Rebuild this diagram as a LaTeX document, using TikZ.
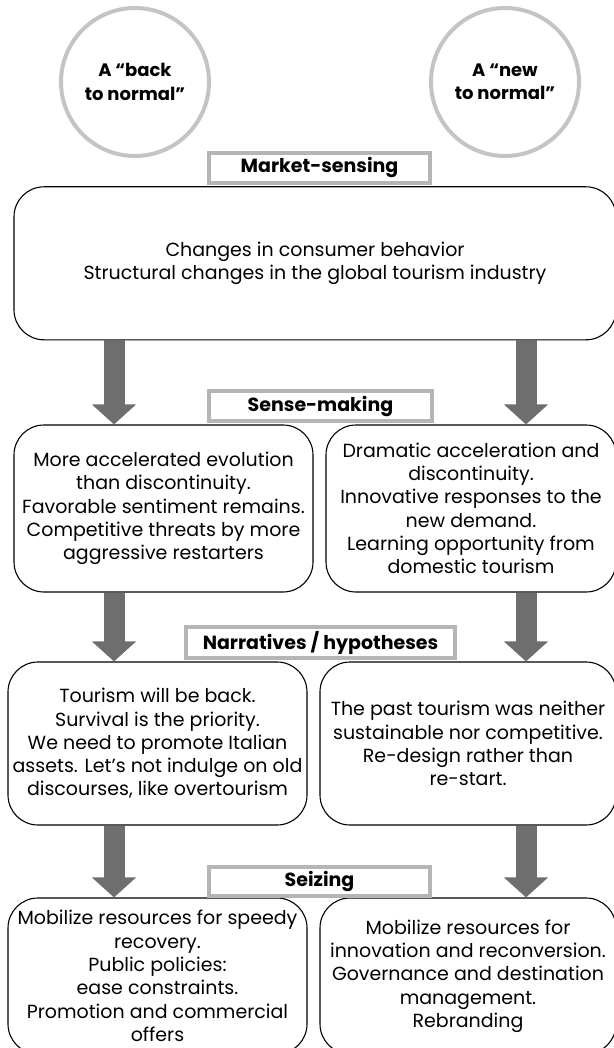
\documentclass[tikz,border=0pt]{standalone}
\usepackage{fontspec}
\setmainfont{Poppins}
\usepackage{xcolor}
\usetikzlibrary{arrows.meta,positioning,calc}

\definecolor{arrowgray}{HTML}{6E6E6E}
\definecolor{labelgray}{HTML}{B5B5B5}
\definecolor{ringgray}{HTML}{C4C4C4}

\begin{document}
\begin{tikzpicture}[x=1pt,y=-1pt,
	font=\fontsize{19}{23.3}\selectfont,
	ring/.style={circle,draw=ringgray,line width=4pt,minimum size=148pt,inner sep=0pt,align=center,font=\fontsize{18}{23.3}\selectfont\bfseries},
	phase/.style={draw=labelgray,line width=4pt,fill=white,inner sep=0pt,font=\fontsize{19}{23.3}\selectfont\bfseries},
	stagebox/.style={draw,line width=1.1pt,rounded corners=30pt,inner sep=0pt,align=center},
	bigarrow/.style={draw=arrowgray,line width=21pt,-{Triangle[length=20pt,width=43pt]}}]
		\useasboundingbox (0,0) rectangle (613,1048);
		\coordinate (colL) at (114,0);
		\coordinate (colR) at (526,0);
		% scenarios
		\node[ring] (back) at (135,82) {A “back\\to normal”};
		\node[ring] (new) at (505,82) {A “new\\to normal”};
		% market-sensing
		\node[stagebox,minimum width=602pt,minimum height=153pt] (mkt) at (315,263.3)
			{Changes in consumer behavior\\Structural changes in the global tourism industry};
		\node[phase,minimum width=221pt,minimum height=30pt] (mktL) at (319.5,168) {Market-sensing};
		% sense-making
		\node[stagebox,minimum width=299pt,minimum height=167pt] (senseL) at (163.5,508.5)
			{More accelerated evolution\\than discontinuity.\\Favorable sentiment remains.\\Competitive threats by more\\aggressive restarters};
		\node[stagebox,minimum width=290pt,minimum height=167pt] (senseR) at (471,508.5)
			{Dramatic acceleration and\\discontinuity.\\Innovative responses to the\\new demand.\\Learning opportunity from\\domestic tourism};
		\node[phase,minimum width=223pt,minimum height=30pt] (senseLab) at (320.5,406.3) {Sense-making};
		% narratives
		\node[stagebox,minimum width=299pt,minimum height=163pt] (narrL) at (157.5,743.5)
			{Tourism will be back.\\Survival is the priority.\\We need to promote Italian\\assets. Let’s not indulge on old\\discourses, like overtourism};
		\node[stagebox,minimum width=296pt,minimum height=163pt] (narrR) at (468,743.5)
			{The past tourism was neither\\sustainable nor competitive.\\Re-design rather than\\re-start.};
		\node[phase,minimum width=269pt,minimum height=31pt] (narrLab) at (320.5,642.5) {Narratives / hypotheses};
		% seizing
		\node[stagebox,minimum width=299pt,minimum height=156pt] (seizeL) at (157.5,976)
			{Mobilize resources for speedy\\recovery.\\Public policies:\\ease constraints.\\Promotion and commercial\\offers};
		\node[stagebox,minimum width=296pt,minimum height=156pt] (seizeR) at (468,976)
			{Mobilize resources for\\innovation and reconversion.\\Governance and destination\\management.\\Rebranding};
		\node[phase,minimum width=221pt,minimum height=29pt] (seizeLab) at (319.5,881.5) {Seizing};
		% flow
		\draw[bigarrow] (mkt.south -| colL) -- (senseL.north -| colL);
		\draw[bigarrow] (mkt.south -| colR) -- (senseR.north -| colR);
		\draw[bigarrow] (senseL.south -| colL) -- (narrL.north -| colL);
		\draw[bigarrow] (senseR.south -| colR) -- (narrR.north -| colR);
		\draw[bigarrow] (narrL.south -| colL) -- (seizeL.north -| colL);
		\draw[bigarrow] (narrR.south -| colR) -- (seizeR.north -| colR);
		\end{tikzpicture}
\end{document}
